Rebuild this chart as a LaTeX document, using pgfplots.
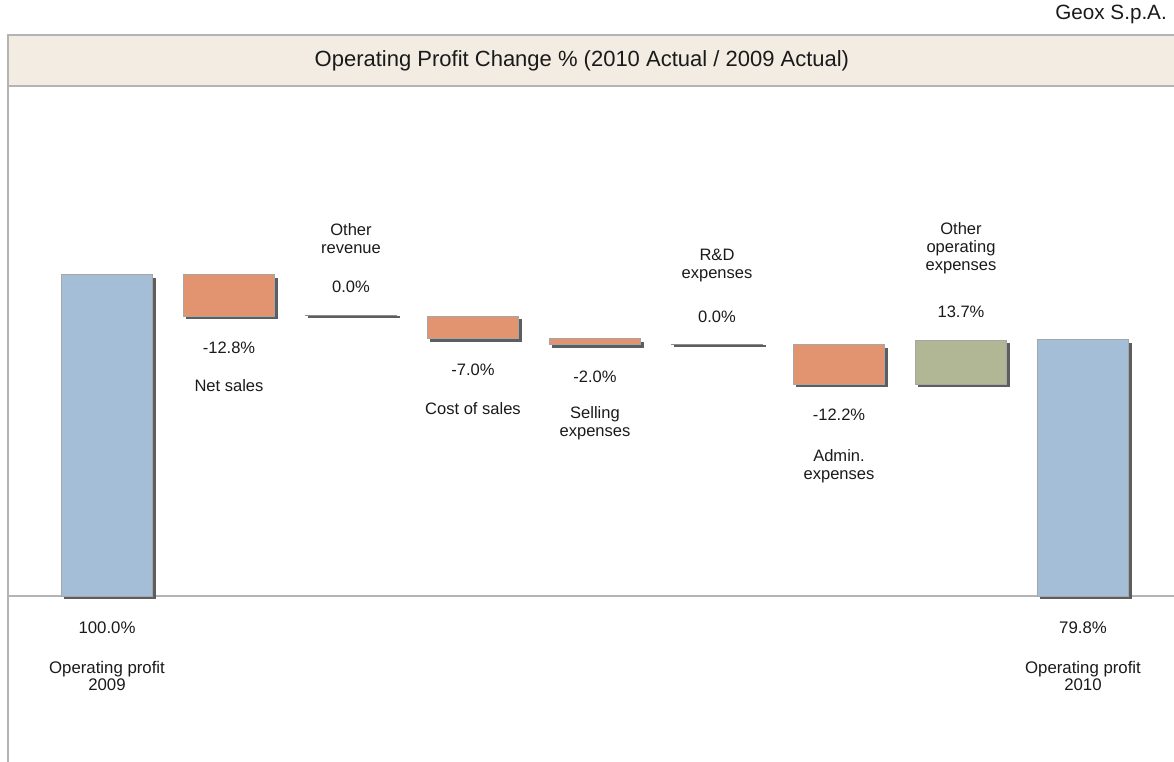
\documentclass[border=0pt]{standalone}
\usepackage{pgfplots}
\pgfplotsset{compat=1.18}
\usepackage{fontspec}
\setmainfont{Liberation Sans}
\definecolor{barblue}{HTML}{A3BED6}
\definecolor{barorange}{HTML}{E2936F}
\definecolor{bargreen}{HTML}{B1B794}
\definecolor{titlebg}{HTML}{F3ECE3}
\definecolor{framegray}{HTML}{B4B4B4}
\definecolor{edgegray}{HTML}{A6A6A6}
\definecolor{shadowgray}{HTML}{5E5E5E}
\definecolor{txt}{HTML}{1A1A1A}
\newcommand{\lab}{\fontsize{12.4}{13.5}\selectfont}
\newcommand{\blab}{\fontsize{12.6}{13}\selectfont}
\begin{document}
\begin{tikzpicture}
\begin{axis}[scale only axis, width=880.5pt, height=571.5pt,
  xmin=-0.877, xmax=8.746, ymin=-51.71, ymax=185.67,
  axis lines=none, clip=false, no markers]
% title band and frame
\fill[titlebg] (axis cs:-0.811,158.9) rectangle (axis cs:8.746,174.8);
\addplot[framegray, line width=1.1pt] coordinates {(8.746,174.8) (-0.811,174.8) (-0.811,-51.71)};
\addplot[framegray, line width=1.1pt] coordinates {(-0.811,158.9) (8.746,158.9)};
\addplot[framegray, line width=1.1pt] coordinates {(-0.811,0) (8.746,0)};
% shadows
\addplot[fill=shadowgray, draw=none] coordinates {(-0.352,-0.93) (0.402,-0.93) (0.402,99.07) (-0.352,99.07)} -- cycle;
\addplot[fill=shadowgray, draw=none] coordinates {(0.648,86.27) (1.402,86.27) (1.402,99.07) (0.648,99.07)} -- cycle;
\addplot[fill=shadowgray, draw=none] coordinates {(1.648,86.6) (2.402,86.6) (2.402,87.3) (1.648,87.3)} -- cycle;
\addplot[fill=shadowgray, draw=none] coordinates {(2.648,79.27) (3.402,79.27) (3.402,86.27) (2.648,86.27)} -- cycle;
\addplot[fill=shadowgray, draw=none] coordinates {(3.648,77.27) (4.402,77.27) (4.402,79.27) (3.648,79.27)} -- cycle;
\addplot[fill=shadowgray, draw=none] coordinates {(4.648,77.6) (5.402,77.6) (5.402,78.3) (4.648,78.3)} -- cycle;
\addplot[fill=shadowgray, draw=none] coordinates {(5.648,65.07) (6.402,65.07) (6.402,77.27) (5.648,77.27)} -- cycle;
\addplot[fill=shadowgray, draw=none] coordinates {(6.648,65.07) (7.402,65.07) (7.402,78.77) (6.648,78.77)} -- cycle;
\addplot[fill=shadowgray, draw=none] coordinates {(7.648,-0.93) (8.402,-0.93) (8.402,78.87) (7.648,78.87)} -- cycle;
% bars
\addplot[fill=barblue, draw=edgegray, line width=0.75pt] coordinates {(-0.377,0) (0.377,0) (0.377,100) (-0.377,100)} -- cycle;
\addplot[fill=barorange, draw=edgegray, line width=0.75pt] coordinates {(0.623,87.2) (1.377,87.2) (1.377,100) (0.623,100)} -- cycle;
\addplot[fill=black!45, draw=none] coordinates {(1.623,87.2) (2.377,87.2) (2.377,87.6) (1.623,87.6)} -- cycle;
\addplot[fill=barorange, draw=edgegray, line width=0.75pt] coordinates {(2.623,80.2) (3.377,80.2) (3.377,87.2) (2.623,87.2)} -- cycle;
\addplot[fill=barorange, draw=edgegray, line width=0.75pt] coordinates {(3.623,78.2) (4.377,78.2) (4.377,80.2) (3.623,80.2)} -- cycle;
\addplot[fill=black!45, draw=none] coordinates {(4.623,78.2) (5.377,78.2) (5.377,78.6) (4.623,78.6)} -- cycle;
\addplot[fill=barorange, draw=edgegray, line width=0.75pt] coordinates {(5.623,66.0) (6.377,66.0) (6.377,78.2) (5.623,78.2)} -- cycle;
\addplot[fill=bargreen, draw=edgegray, line width=0.75pt] coordinates {(6.623,66.0) (7.377,66.0) (7.377,79.7) (6.623,79.7)} -- cycle;
\addplot[fill=barblue, draw=edgegray, line width=0.75pt] coordinates {(7.623,0) (8.377,0) (8.377,79.8) (7.623,79.8)} -- cycle;
% texts
\node[txt, font=\fontsize{16.5}{18}\selectfont] at (axis cs:3.893,166.7) {Operating Profit Change \% (2010 Actual / 2009 Actual)};
\node[txt, anchor=east, font=\fontsize{15.5}{17}\selectfont, inner sep=0pt] at (axis cs:8.689,181.3) {Geox S.p.A.};
\begin{scope}[every node/.style={txt, align=center, font=\lab, inner sep=0pt}]
\node at (axis cs:1,77.3) {-12.8\%};
\node at (axis cs:1,65.4) {Net sales};
\node at (axis cs:2,111.2) {Other\\revenue};
\node at (axis cs:2,96.3) {0.0\%};
\node at (axis cs:3,70.4) {-7.0\%};
\node at (axis cs:3,58.3) {Cost of sales};
\node at (axis cs:4,68.2) {-2.0\%};
\node at (axis cs:4,53.9) {Selling\\expenses};
\node at (axis cs:5,103.1) {R\&D\\expenses};
\node at (axis cs:5,86.9) {0.0\%};
\node at (axis cs:6,56.4) {-12.2\%};
\node at (axis cs:6,40.5) {Admin.\\expenses};
\node at (axis cs:7,108.4) {Other\\operating\\expenses};
\node at (axis cs:7,88.5) {13.7\%};
\end{scope}
\begin{scope}[every node/.style={txt, align=center, font=\blab, inner sep=0pt}]
\node at (axis cs:0,-10.0) {100.0\%};
\node at (axis cs:0,-24.9) {Operating profit\\2009};
\node at (axis cs:8,-10.0) {79.8\%};
\node at (axis cs:8,-24.9) {Operating profit\\2010};
\end{scope}
\end{axis}
\pgfresetboundingbox
\useasboundingbox (current axis.south west) rectangle (current axis.north east);
\end{tikzpicture}
\end{document}
